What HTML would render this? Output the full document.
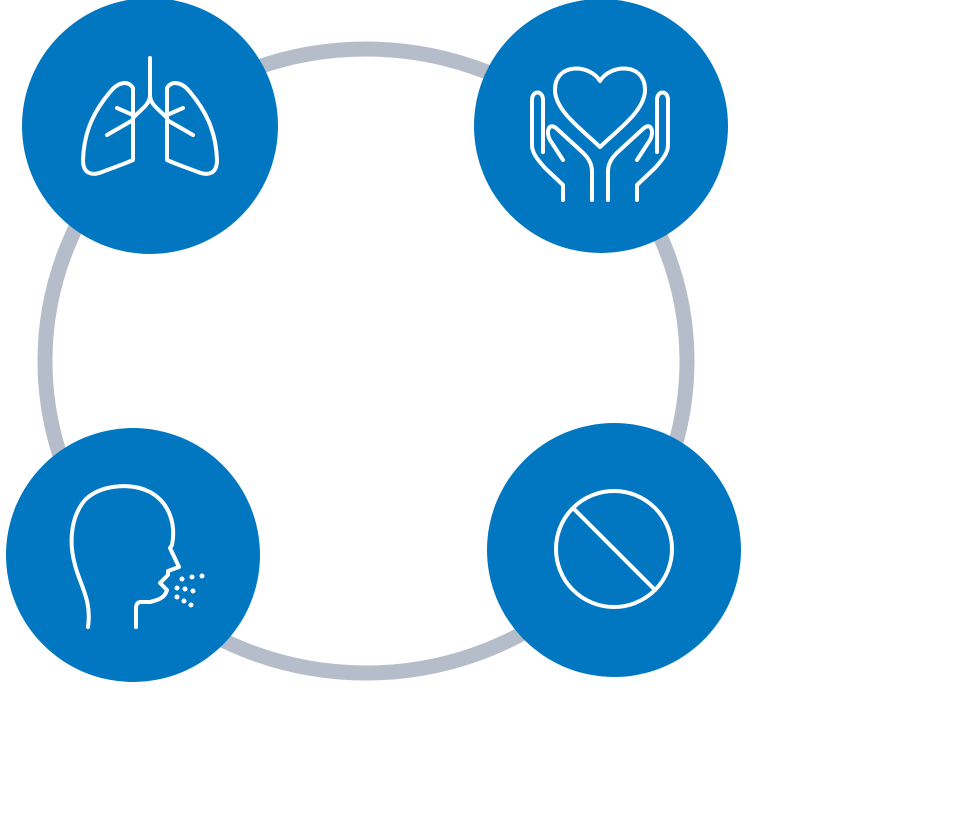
<!DOCTYPE html>
<html><head><style>html,body{margin:0;padding:0;background:#fff}</style></head>
<body>
<svg width="960" height="820" viewBox="0 0 960 820" xmlns="http://www.w3.org/2000/svg">
<ellipse cx="366" cy="361" rx="321" ry="312" fill="none" stroke="#b6bdca" stroke-width="15"/>
<g fill="#0077c0">
<circle cx="150" cy="126" r="128"/>
<circle cx="601" cy="126" r="127"/>
<circle cx="133" cy="555" r="127"/>
<circle cx="614" cy="550" r="127"/>
</g>
<g fill="none" stroke="#fff" stroke-width="4" stroke-linecap="round" stroke-linejoin="round">
<!-- lungs -->
<path d="M133,88 C128,80 118,82 110,92 C95,110 84,130 83,160 C83,174 92,176 102,172 C112,168 122,165 133,160 Z"/>
<path d="M167,88 C172,80 182,82 190,92 C205,110 216,130 217,160 C217,174 208,176 198,172 C188,168 178,165 167,160 Z"/>
<path d="M150,58 V95 C150,105 140,110 133,118 M150,95 C150,105 160,110 167,118"/>
<path d="M117,108 L133,115 M107,135 L133,120 M183,108 L167,115 M193,135 L167,120"/>
<!-- heart hands -->
<path d="M600,81 C590,64 555,62 555,90 C555,110 580,128 600,147 C620,128 645,110 645,90 C645,62 610,64 600,81 Z"/>
<path d="M543,152 L543,100 C543,90 532,90 532,100 L532,145 C532,152 536,158 545,168 L563,185 V200"/>
<path d="M563,160 L550,140 C546,133 548,122 556,128 L580,150 C588,157 592,163 592,172 V200"/>
<path d="M657,152 L657,100 C657,90 668,90 668,100 L668,145 C668,152 664,158 655,168 L637,185 V200"/>
<path d="M637,160 L650,140 C654,133 652,122 644,128 L620,150 C612,157 608,163 608,172 V200"/>
<!-- head -->
<path d="M88,627 C92,600 80,585 75,565 C68,540 72,515 85,500 C100,485 130,482 150,492 C170,503 176,525 172,545 L170,548 L179,567 L168,571 L168,575 L160,583 L167,590 C165,598 158,600 150,602 L140,602 C136,603 136,606 136,610 V627"/>
<!-- prohibition -->
<circle cx="614" cy="549" r="58"/>
<path d="M573,508 L655,590"/>
</g>
<g fill="#fff">
<circle cx="182" cy="579" r="2.5"/><circle cx="192" cy="577" r="2.5"/><circle cx="202" cy="576" r="2.5"/>
<circle cx="177" cy="588" r="2.5"/><circle cx="185" cy="589" r="2.5"/><circle cx="193" cy="591" r="2.5"/>
<circle cx="177" cy="597" r="2.5"/><circle cx="184" cy="601" r="2.5"/><circle cx="191" cy="605" r="2.5"/>
</g>
</svg>
</body></html>
